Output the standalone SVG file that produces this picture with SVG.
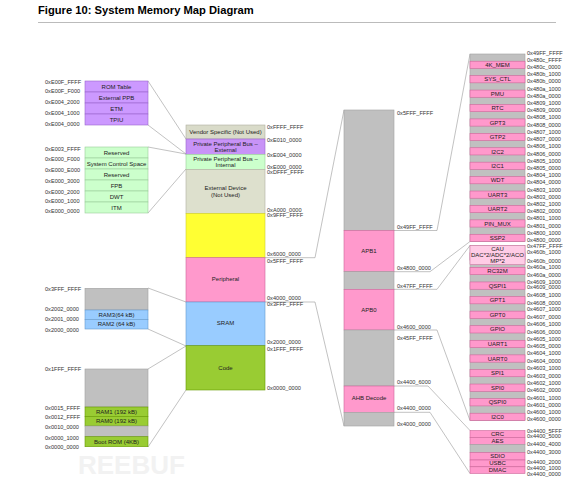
<svg xmlns="http://www.w3.org/2000/svg" width="576" height="482" viewBox="0 0 576 482">
<style>
.lbl{font-family:"Liberation Sans",Arial,sans-serif;font-size:5.6px;fill:#333}
.t{font-family:"Liberation Sans",Arial,sans-serif;font-size:6px;fill:#222;text-anchor:middle}
.pu{fill:#cc99ff;stroke:#9966cc;stroke-width:0.6}
.gr{fill:#ccffcc;stroke:#99cc99;stroke-width:0.6}
.bl{fill:#99ccff;stroke:#6699cc;stroke-width:0.6}
.gn{fill:#99cc33;stroke:#669900;stroke-width:0.6}
.gy{fill:#c0c0c0;stroke:#a0a0a0;stroke-width:0.6}
.pk{fill:#ff99cc;stroke:#cc6699;stroke-width:0.6}
.con{fill:none;stroke:#999;stroke-width:0.6}
</style>
<rect width="576" height="482" fill="#fff"/>
<g id="title">
<text x="38" y="14" font-family="Liberation Sans,Arial,sans-serif" font-weight="bold" font-size="11.2" fill="#000">Figure 10: System Memory Map Diagram</text>
<line x1="38" y1="22.5" x2="556" y2="22.5" stroke="#aaa" stroke-width="0.8"/>
</g>
<text x="78" y="474" font-family="Liberation Sans,Arial,sans-serif" font-weight="bold" font-size="26" fill="#f2f2f2">REEBUF</text>

<g id="connectors">
<line class="con" x1="148" y1="81" x2="186" y2="139"/>
<line class="con" x1="148" y1="125" x2="186" y2="154"/>
<line class="con" x1="148" y1="147" x2="186" y2="154"/>
<line class="con" x1="148" y1="213" x2="186" y2="169"/>
<line class="con" x1="148" y1="288" x2="186" y2="302"/>
<line class="con" x1="148" y1="329" x2="186" y2="346"/>
<line class="con" x1="148" y1="369" x2="186" y2="346"/>
<line class="con" x1="148" y1="447" x2="186" y2="390"/>
<polyline class="con" points="265,257.7 315,257.7 344,110"/>
<polyline class="con" points="265,302 315,302 344,426"/>
<polyline class="con" points="394,230.5 437,230.5 470,54"/>
<polyline class="con" points="394,271.7 430,271.7 470,241.5"/>
<polyline class="con" points="394,289.3 437,289.3 470,245.5"/>
<polyline class="con" points="394,330 437,330 470,420.5"/>
<polyline class="con" points="394,386 428,386 470,430.5"/>
<polyline class="con" points="394,412.3 430,412.3 470,473.5"/>
</g>

<g id="ppb-external">
<rect class="pu" x="85" y="81" width="63" height="11"/>
<rect class="pu" x="85" y="92" width="63" height="11"/>
<rect class="pu" x="85" y="103" width="63" height="11"/>
<rect class="pu" x="85" y="114" width="63" height="11"/>
<text class="t" x="116.5" y="88.5">ROM Table</text>
<text class="t" x="116.5" y="99.5">External PPB</text>
<text class="t" x="116.5" y="110.5">ETM</text>
<text class="t" x="116.5" y="121.5">TPIU</text>
<text class="lbl" x="45" y="83.5">0xE00F_FFFF</text>
<text class="lbl" x="45" y="93">0xE00F_F000</text>
<text class="lbl" x="45" y="104">0xE004_2000</text>
<text class="lbl" x="45" y="115">0xE004_1000</text>
<text class="lbl" x="45" y="126">0xE004_0000</text>
</g>

<g id="ppb-internal">
<rect class="gr" x="85" y="147" width="63" height="11"/>
<rect class="gr" x="85" y="158" width="63" height="11"/>
<rect class="gr" x="85" y="169" width="63" height="11"/>
<rect class="gr" x="85" y="180" width="63" height="11"/>
<rect class="gr" x="85" y="191" width="63" height="11"/>
<rect class="gr" x="85" y="202" width="63" height="11"/>
<text class="t" x="116.5" y="154.5">Reserved</text>
<text class="t" x="116.5" y="165.5">System Control Space</text>
<text class="t" x="116.5" y="176.5">Reserved</text>
<text class="t" x="116.5" y="187.5">FPB</text>
<text class="t" x="116.5" y="198.5">DWT</text>
<text class="t" x="116.5" y="209.5">ITM</text>
<text class="lbl" x="45" y="151">0xE003_FFFF</text>
<text class="lbl" x="45" y="161.3">0xE000_F000</text>
<text class="lbl" x="45" y="172">0xE000_E000</text>
<text class="lbl" x="45" y="183">0xE000_3000</text>
<text class="lbl" x="45" y="193.7">0xE000_2000</text>
<text class="lbl" x="45" y="203">0xE000_1000</text>
<text class="lbl" x="45" y="212.5">0xE000_0000</text>
</g>

<g id="sram-detail">
<rect class="gy" x="85" y="288.3" width="63" height="21.7"/>
<rect class="bl" x="85" y="310" width="63" height="9.3"/>
<rect class="bl" x="85" y="319.3" width="63" height="9.7"/>
<text class="t" x="116.5" y="316.7">RAM3(64 kB)</text>
<text class="t" x="116.5" y="326.2">RAM2 (64 kB)</text>
<text class="lbl" x="45" y="291.3">0x3FFF_FFFF</text>
<text class="lbl" x="45" y="311">0x2002_0000</text>
<text class="lbl" x="45" y="321.3">0x2001_0000</text>
<text class="lbl" x="45" y="332">0x2000_0000</text>
</g>

<g id="code-detail">
<rect class="gy" x="85" y="369" width="63" height="38"/>
<rect class="gn" x="85" y="407" width="63" height="9.5"/>
<rect class="gn" x="85" y="416.5" width="63" height="9.5"/>
<rect class="gy" x="85" y="426" width="63" height="10.7"/>
<rect class="gn" x="85" y="436.7" width="63" height="10"/>
<text class="t" x="116.5" y="413.8">RAM1 (192 kB)</text>
<text class="t" x="116.5" y="423.3">RAM0 (192 kB)</text>
<text class="t" x="116.5" y="443.8">Boot ROM (4KB)</text>
<text class="lbl" x="45" y="371">0x1FFF_FFFF</text>
<text class="lbl" x="45" y="409.7">0x0015_FFFF</text>
<text class="lbl" x="45" y="418.7">0x0012_FFFF</text>
<text class="lbl" x="45" y="428.7">0x0010_0000</text>
<text class="lbl" x="45" y="439.7">0x0000_1000</text>
<text class="lbl" x="45" y="449.3">0x0000_0000</text>
</g>

<g id="system-map">
<rect x="186" y="125" width="79" height="14" fill="#d9dbc9" stroke="#b0b0a0" stroke-width="0.6"/>
<rect x="186" y="139" width="79" height="15.3" fill="#c893f7" stroke="#9966cc" stroke-width="0.6"/>
<rect x="186" y="154.3" width="79" height="15" fill="#ccffcc" stroke="#99cc99" stroke-width="0.6"/>
<rect x="186" y="169.3" width="79" height="44" fill="#dde0cd" stroke="#b0b0a0" stroke-width="0.6"/>
<rect x="186" y="213.3" width="79" height="44.4" fill="#ffff33" stroke="#cccc33" stroke-width="0.6"/>
<rect x="186" y="257.7" width="79" height="44.3" fill="#ff99cc" stroke="#cc6699" stroke-width="0.6"/>
<rect x="186" y="302" width="79" height="43.7" fill="#99ccff" stroke="#6699cc" stroke-width="0.6"/>
<rect x="186" y="345.7" width="79" height="44.3" fill="#99cc33" stroke="#669900" stroke-width="0.6"/>
<text class="t" x="225.5" y="134">Vendor Specific (Not Used)</text>
<text class="t" x="225.5" y="145.5">Private Peripheral Bus –</text>
<text class="t" x="225.5" y="151.5">External</text>
<text class="t" x="225.5" y="160.5">Private Peripheral Bus –</text>
<text class="t" x="225.5" y="166.5">Internal</text>
<text class="t" x="225.5" y="189.7">External Device</text>
<text class="t" x="225.5" y="197">(Not Used)</text>
<text class="t" x="225.5" y="281.3">Peripheral</text>
<text class="t" x="225.5" y="325.3">SRAM</text>
<text class="t" x="225.5" y="369.7">Code</text>
<text class="lbl" x="267" y="128.7">0xFFFF_FFFF</text>
<text class="lbl" x="267" y="141.5">0xE010_0000</text>
<text class="lbl" x="267" y="156.5">0xE004_0000</text>
<text class="lbl" x="267" y="168.7">0xE000_0000</text>
<text class="lbl" x="267" y="173.7">0xDFFF_FFFF</text>
<text class="lbl" x="267" y="211.5">0xA000_0000</text>
<text class="lbl" x="267" y="216.5">0x9FFF_FFFF</text>
<text class="lbl" x="267" y="256">0x6000_0000</text>
<text class="lbl" x="267" y="262.5">0x5FFF_FFFF</text>
<text class="lbl" x="267" y="300.3">0x4000_0000</text>
<text class="lbl" x="267" y="306">0x3FFF_FFFF</text>
<text class="lbl" x="267" y="344.3">0x2000_0000</text>
<text class="lbl" x="267" y="351">0x1FFF_FFFF</text>
<text class="lbl" x="267" y="389.7">0x0000_0000</text>
</g>

<g id="peripheral-map">
<rect class="gy" x="344" y="110" width="50" height="120.5"/>
<rect class="pk" x="344" y="230.5" width="50" height="41.2"/>
<rect class="gy" x="344" y="271.7" width="50" height="17.6"/>
<rect class="pk" x="344" y="289.3" width="50" height="40.7"/>
<rect class="gy" x="344" y="330" width="50" height="56"/>
<rect class="pk" x="344" y="386" width="50" height="26.3"/>
<rect class="gy" x="344" y="412.3" width="50" height="13.7"/>
<text class="t" x="369" y="253">APB1</text>
<text class="t" x="369" y="312">APB0</text>
<text class="t" x="369" y="400.3">AHB Decode</text>
<text class="lbl" x="397" y="115.3">0x5FFF_FFFF</text>
<text class="lbl" x="397" y="228.7">0x49FF_FFFF</text>
<text class="lbl" x="397" y="269.7">0x4800_0000</text>
<text class="lbl" x="397" y="288">0x47FF_FFFF</text>
<text class="lbl" x="397" y="329.3">0x4600_0000</text>
<text class="lbl" x="397" y="339.7">0x45FF_FFFF</text>
<text class="lbl" x="397" y="383.7">0x4400_6000</text>
<text class="lbl" x="397" y="410.3">0x4400_0000</text>
<text class="lbl" x="397" y="426.3">0x4000_0000</text>
</g>

<g id="apb1-map">
<rect class="gy" x="470" y="54" width="55" height="187.5"/>
<rect class="pk" x="470" y="61.21" width="55" height="7.21"/>
<rect class="pk" x="470" y="75.63" width="55" height="7.21"/>
<rect class="pk" x="470" y="90.06" width="55" height="7.21"/>
<rect class="pk" x="470" y="104.48" width="55" height="7.21"/>
<rect class="pk" x="470" y="118.9" width="55" height="7.21"/>
<rect class="pk" x="470" y="133.33" width="55" height="7.21"/>
<rect class="pk" x="470" y="147.75" width="55" height="7.21"/>
<rect class="pk" x="470" y="162.17" width="55" height="7.21"/>
<rect class="pk" x="470" y="176.6" width="55" height="7.21"/>
<rect class="pk" x="470" y="191.02" width="55" height="7.21"/>
<rect class="pk" x="470" y="205.44" width="55" height="7.21"/>
<rect class="pk" x="470" y="219.87" width="55" height="7.21"/>
<rect class="pk" x="470" y="234.29" width="55" height="7.21"/>
<text class="t" x="497.5" y="66.9">4K_MEM</text>
<text class="t" x="497.5" y="81.3">SYS_CTL</text>
<text class="t" x="497.5" y="95.8">PMU</text>
<text class="t" x="497.5" y="110.2">RTC</text>
<text class="t" x="497.5" y="124.6">GPT3</text>
<text class="t" x="497.5" y="139">GTP2</text>
<text class="t" x="497.5" y="153.5">I2C2</text>
<text class="t" x="497.5" y="167.9">I2C1</text>
<text class="t" x="497.5" y="182.3">WDT</text>
<text class="t" x="497.5" y="196.7">UART3</text>
<text class="t" x="497.5" y="211.1">UART2</text>
<text class="t" x="497.5" y="225.6">PIN_MUX</text>
<text class="t" x="497.5" y="240">SSP2</text>
<text class="lbl" x="527" y="55.3">0x49FF_FFFF</text>
<text class="lbl" x="527" y="61.7">0x480c_FFFF</text>
<text class="lbl" x="527" y="68.9">0x480c_0000</text>
<text class="lbl" x="527" y="76.1">0x480b_1000</text>
<text class="lbl" x="527" y="83.3">0x480b_0000</text>
<text class="lbl" x="527" y="90.6">0x480a_1000</text>
<text class="lbl" x="527" y="97.8">0x480a_0000</text>
<text class="lbl" x="527" y="105">0x4809_1000</text>
<text class="lbl" x="527" y="112.2">0x4809_0000</text>
<text class="lbl" x="527" y="119.4">0x4808_1000</text>
<text class="lbl" x="527" y="126.6">0x4808_0000</text>
<text class="lbl" x="527" y="133.8">0x4807_1000</text>
<text class="lbl" x="527" y="141">0x4807_0000</text>
<text class="lbl" x="527" y="148.2">0x4806_1000</text>
<text class="lbl" x="527" y="155.5">0x4806_0000</text>
<text class="lbl" x="527" y="162.7">0x4805_1000</text>
<text class="lbl" x="527" y="169.9">0x4805_0000</text>
<text class="lbl" x="527" y="177.1">0x4804_1000</text>
<text class="lbl" x="527" y="184.3">0x4804_0000</text>
<text class="lbl" x="527" y="191.5">0x4803_1000</text>
<text class="lbl" x="527" y="198.7">0x4803_0000</text>
<text class="lbl" x="527" y="205.9">0x4802_1000</text>
<text class="lbl" x="527" y="213.1">0x4802_0000</text>
<text class="lbl" x="527" y="220.4">0x4801_1000</text>
<text class="lbl" x="527" y="227.6">0x4801_0000</text>
<text class="lbl" x="527" y="234.8">0x4800_1000</text>
<text class="lbl" x="527" y="242">0x4800_0000</text>
</g>

<g id="apb0-map">
<rect class="gy" x="470" y="245.5" width="55" height="175"/>
<rect class="pk" x="470" y="252.79" width="55" height="7.29"/>
<rect class="pk" x="470" y="267.38" width="55" height="7.29"/>
<rect class="pk" x="470" y="281.96" width="55" height="7.29"/>
<rect class="pk" x="470" y="296.54" width="55" height="7.29"/>
<rect class="pk" x="470" y="311.13" width="55" height="7.29"/>
<rect class="pk" x="470" y="325.71" width="55" height="7.29"/>
<rect class="pk" x="470" y="340.29" width="55" height="7.29"/>
<rect class="pk" x="470" y="354.88" width="55" height="7.29"/>
<rect class="pk" x="470" y="369.46" width="55" height="7.29"/>
<rect class="pk" x="470" y="384.04" width="55" height="7.29"/>
<rect class="pk" x="470" y="398.63" width="55" height="7.29"/>
<rect class="pk" x="470" y="413.21" width="55" height="7.29"/>
<rect x="470" y="245.5" width="55" height="19" fill="#ffcce6" stroke="#cc6699" stroke-width="0.5"/>
<text class="t" x="497.5" y="250.5">CAU</text>
<text class="t" x="497.5" y="257">DAC*2/ADC*2/ACO</text>
<text class="t" x="497.5" y="263.3">MP*2</text>
<text class="t" x="497.5" y="273.1">RC32M</text>
<text class="t" x="497.5" y="287.7">QSPI1</text>
<text class="t" x="497.5" y="302.3">GPT1</text>
<text class="t" x="497.5" y="316.9">GPT0</text>
<text class="t" x="497.5" y="331.4">GPIO</text>
<text class="t" x="497.5" y="346">UART1</text>
<text class="t" x="497.5" y="360.6">UART0</text>
<text class="t" x="497.5" y="375.2">SPI1</text>
<text class="t" x="497.5" y="389.8">SPI0</text>
<text class="t" x="497.5" y="404.4">QSPI0</text>
<text class="t" x="497.5" y="418.9">I2C0</text>
<text class="lbl" x="527" y="248">0x47FF_FFFF</text>
<text class="lbl" x="527" y="254.3">0x460b_1000</text>
<text class="lbl" x="527" y="262.6">0x460b_0000</text>
<text class="lbl" x="527" y="269.4">0x460a_1000</text>
<text class="lbl" x="527" y="276.7">0x460a_0000</text>
<text class="lbl" x="527" y="284">0x4609_1000</text>
<text class="lbl" x="527" y="289.3">0x4609_0000</text>
<text class="lbl" x="527" y="297">0x4608_1000</text>
<text class="lbl" x="527" y="304.5">0x4608_0000</text>
<text class="lbl" x="527" y="311.3">0x4607_1000</text>
<text class="lbl" x="527" y="319.3">0x4607_0000</text>
<text class="lbl" x="527" y="326">0x4606_1000</text>
<text class="lbl" x="527" y="333.7">0x4606_0000</text>
<text class="lbl" x="527" y="341">0x4605_1000</text>
<text class="lbl" x="527" y="348">0x4605_0000</text>
<text class="lbl" x="527" y="355.3">0x4604_1000</text>
<text class="lbl" x="527" y="363">0x4604_0000</text>
<text class="lbl" x="527" y="370.3">0x4603_1000</text>
<text class="lbl" x="527" y="378">0x4603_0000</text>
<text class="lbl" x="527" y="384.7">0x4602_1000</text>
<text class="lbl" x="527" y="392">0x4602_0000</text>
<text class="lbl" x="527" y="399.7">0x4601_1000</text>
<text class="lbl" x="527" y="407">0x4601_0000</text>
<text class="lbl" x="527" y="414.3">0x4600_1000</text>
<text class="lbl" x="527" y="421.3">0x4600_0000</text>
</g>

<g id="ahb-map">
<rect class="pk" x="470" y="430.5" width="55" height="7"/>
<rect class="pk" x="470" y="437.5" width="55" height="7"/>
<rect class="gy" x="470" y="444.5" width="55" height="8"/>
<rect class="pk" x="470" y="452.5" width="55" height="7.5"/>
<rect class="pk" x="470" y="460" width="55" height="6.8"/>
<rect class="pk" x="470" y="466.8" width="55" height="6.7"/>
<text class="t" x="497.5" y="436">CRC</text>
<text class="t" x="497.5" y="443">AES</text>
<text class="t" x="497.5" y="458.3">SDIO</text>
<text class="t" x="497.5" y="465.4">USBC</text>
<text class="t" x="497.5" y="472.2">DMAC</text>
<text class="lbl" x="527" y="432.7">0x4400_5FFF</text>
<text class="lbl" x="527" y="438">0x4400_5000</text>
<text class="lbl" x="527" y="446">0x4400_4000</text>
<text class="lbl" x="527" y="453.7">0x4400_3000</text>
<text class="lbl" x="527" y="463.7">0x4400_2000</text>
<text class="lbl" x="527" y="469.7">0x4400_1000</text>
<text class="lbl" x="527" y="476">0x4400_0000</text>
</g>
</svg>
